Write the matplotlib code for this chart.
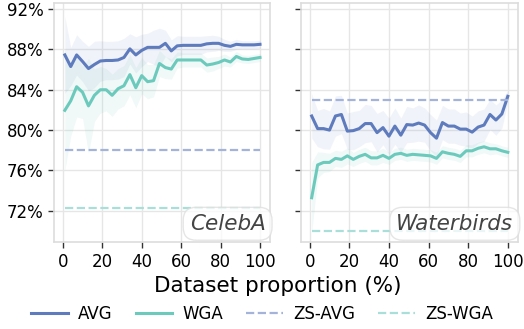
import numpy as np
import matplotlib as mpl
mpl.use('Agg')
import matplotlib.pyplot as plt

# dataset proportion (%)
x = list(range(1, 101, 3))

celeba_avg = [87.45, 86.3, 87.45, 86.8, 86.1, 86.5, 86.85, 86.9, 86.9, 86.95, 87.2, 88.05,
              87.45, 87.9, 88.2, 88.2, 88.2, 88.6, 87.85, 88.35, 88.4, 88.4, 88.4, 88.4,
              88.55, 88.6, 88.6, 88.4, 88.3, 88.5, 88.45, 88.45, 88.45, 88.5]
celeba_avg_sd = [3.8, 1.9, 2.0, 2.0, 2.2, 2.3, 2.0, 1.9, 1.9, 1.9, 1.9, 1.5, 1.8, 1.6, 1.4,
                 1.7, 1.9, 1.3, 1.1, 1.0, 0.9, 0.9, 0.9, 0.9, 0.8, 0.8, 0.7, 0.6, 0.5, 0.5,
                 0.4, 0.4, 0.4, 0.4]
celeba_wga = [81.96, 82.9, 84.3, 83.75, 82.4, 83.45, 84.0, 84.0, 83.45, 84.1, 84.4, 85.5,
              84.2, 85.4, 84.8, 84.9, 86.6, 86.2, 86.05, 86.95, 86.95, 86.95, 86.95, 86.95,
              86.45, 86.55, 86.7, 86.95, 86.75, 87.3, 87.05, 87.0, 87.1, 87.2]
celeba_wga_sd = [6.0, 3.5, 3.0, 2.6, 4.7, 2.6, 2.3, 2.1, 2.1, 2.0, 2.0, 2.0, 2.0, 1.8, 1.7,
                 1.6, 1.3, 1.1, 1.0, 0.8, 0.7, 0.7, 0.7, 0.7, 0.7, 0.7, 0.6, 0.6, 0.5, 0.5,
                 0.4, 0.4, 0.4, 0.4]
celeba_zs_avg = 78.0
celeba_zs_wga = 72.25

wb_avg = [81.4, 80.15, 80.15, 80.0, 81.4, 81.55, 79.9, 79.95, 80.15, 80.65, 80.65, 79.75,
          80.25, 79.4, 80.4, 79.5, 80.55, 80.5, 80.7, 80.5, 79.75, 79.2, 80.75, 80.4,
          80.4, 80.1, 80.1, 79.8, 80.3, 80.5, 81.55, 81.0, 81.6, 83.35]
wb_avg_sd = [2.2, 1.8, 2.0, 1.9, 2.0, 1.9, 1.8, 1.9, 1.8, 1.9, 1.8, 1.9, 1.7, 1.8, 1.8, 1.7,
             1.8, 1.7, 1.8, 1.7, 1.8, 1.8, 1.7, 1.7, 1.7, 1.6, 1.7, 1.6, 1.6, 1.6, 1.5, 1.5,
             1.4, 0.6]
wb_wga = [73.3, 76.55, 76.8, 76.8, 77.2, 77.1, 77.45, 77.1, 77.4, 77.6, 77.25, 77.25,
          77.5, 77.2, 77.6, 77.7, 77.5, 77.6, 77.55, 77.5, 77.45, 77.2, 77.85, 77.7,
          77.6, 77.4, 77.95, 77.95, 78.2, 78.35, 78.15, 78.15, 77.95, 77.8]
wb_wga_sd = [3.5, 1.3, 1.0, 0.9, 0.8, 0.8, 0.8, 0.7, 0.7, 0.7, 0.7, 0.7, 0.7, 0.6, 0.6, 0.6,
             0.6, 0.6, 0.6, 0.6, 0.6, 0.6, 0.6, 0.6, 0.6, 0.6, 0.6, 0.6, 0.6, 0.6, 0.6, 0.5,
             0.5, 0.5]
wb_zs_avg = 83.0
wb_zs_wga = 70.0

c_avg = '#5e7bbd'
c_wga = '#6ccabd'
c_zs_avg = '#a3b3da'
c_zs_wga = '#aadfd9'

fig = plt.figure(figsize=(5.24, 3.29), dpi=100)
ax1 = fig.add_axes([0.103, 0.264, 0.412, 0.727])
ax2 = fig.add_axes([0.574, 0.264, 0.414, 0.727], sharey=ax1)

panels = [(ax1, 'CelebA', celeba_avg, celeba_avg_sd, celeba_wga, celeba_wga_sd, celeba_zs_avg, celeba_zs_wga),
          (ax2, 'Waterbirds', wb_avg, wb_avg_sd, wb_wga, wb_wga_sd, wb_zs_avg, wb_zs_wga)]

for ax, name, avg, avg_sd, wga, wga_sd, zs_avg, zs_wga in panels:
    avg = np.array(avg); avg_sd = np.array(avg_sd)
    wga = np.array(wga); wga_sd = np.array(wga_sd)
    ax.fill_between(x, avg - avg_sd, avg + avg_sd, color=c_avg, alpha=0.09, lw=0)
    ax.fill_between(x, wga - wga_sd, wga + wga_sd, color=c_wga, alpha=0.1, lw=0)
    ax.plot(x, avg, color=c_avg, lw=2.2, label='AVG')
    ax.plot(x, wga, color=c_wga, lw=2.2, label='WGA')
    ax.plot([x[0], x[-1]], [zs_avg, zs_avg], '--', color=c_zs_avg, lw=1.6, label='ZS-AVG')
    ax.plot([x[0], x[-1]], [zs_wga, zs_wga], '--', color=c_zs_wga, lw=1.6, label='ZS-WGA')
    ax.set_xlim(-4.5, 105)
    ax.set_xticks([0, 20, 40, 60, 80, 100])
    ax.grid(True, color='#e6e6e6', lw=1.0)
    ax.set_axisbelow(True)
    for s in ax.spines.values():
        s.set_color('#dddddd')
        s.set_linewidth(1.2)
    ax.tick_params(labelsize=12, length=4, color='#333333', width=1)
    ax.text(0.98, 0.035, name, transform=ax.transAxes, ha='right', va='bottom',
            fontsize=15.5, style='italic', color='#444444',
            bbox=dict(boxstyle='round,pad=0.3,rounding_size=0.6', fc='white', ec='#dddddd', alpha=0.75))

ax1.set_ylim(68.9, 92.6)
ax1.set_yticks([72, 76, 80, 84, 88, 92])
ax1.set_yticklabels(['72%', '76%', '80%', '84%', '88%', '92%'])
plt.setp(ax2.get_yticklabels(), visible=False)

fig.text(0.53, 0.132, 'Dataset proportion (%)', ha='center', va='center', fontsize=15.5)

handles, labels = ax1.get_legend_handles_labels()
fig.legend(handles, labels, loc='center', bbox_to_anchor=(0.5, 0.045), ncol=4, frameon=False,
           fontsize=12, handlelength=2.2, handletextpad=0.6, columnspacing=1.4)

fig.savefig('out.png', dpi=100)
